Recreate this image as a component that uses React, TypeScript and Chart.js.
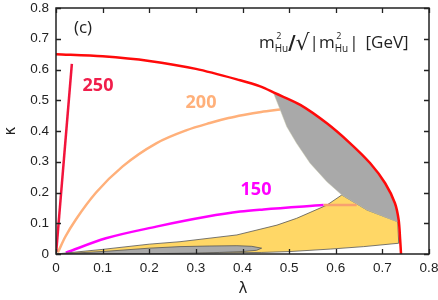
import React, { useEffect, useRef } from "react";
import { Chart, registerables } from "chart.js";
Chart.register(...registerables);

// ---- data ----
const X_TICKS = [0, 0.1, 0.2, 0.3, 0.4, 0.5, 0.6, 0.7, 0.8];
const Y_TICKS = [0, 0.1, 0.2, 0.3, 0.4, 0.5, 0.6, 0.7, 0.8];

const boundaryLam = [0, 0.1, 0.2, 0.3, 0.395, 0.438, 0.47, 0.524, 0.581, 0.631, 0.674, 0.706, 0.727, 0.735, 0.738, 0.74];
const boundaryKap = [0.65, 0.643, 0.628, 0.602, 0.565, 0.545, 0.523, 0.485, 0.425, 0.36, 0.295, 0.23, 0.165, 0.11, 0.05, 0];

const line250Lam = [0.0005, 0.034];
const line250Kap = [0.008, 0.618];

const line200Lam = [0.004, 0.02, 0.043, 0.086, 0.143, 0.215, 0.279, 0.33, 0.37, 0.402, 0.44, 0.481];
const line200Kap = [0.005, 0.056, 0.113, 0.2, 0.285, 0.36, 0.402, 0.426, 0.442, 0.452, 0.462, 0.47];

const line150Lam = [0.021, 0.107, 0.215, 0.322, 0.395, 0.445, 0.574];
const line150Kap = [0.004, 0.051, 0.089, 0.121, 0.138, 0.145, 0.159];
const line150HiddenLam = [0.574, 0.645];
const line150HiddenKap = [0.159, 0.159];

const grayUpperLam = [0.466, 0.474, 0.481, 0.495, 0.516, 0.545, 0.581, 0.613, 0.667, 0.731, 0.735, 0.727, 0.706, 0.674, 0.631, 0.581, 0.524, 0.466];
const grayUpperKap = [0.525, 0.495, 0.468, 0.414, 0.36, 0.295, 0.235, 0.192, 0.143, 0.105, 0.11, 0.165, 0.23, 0.295, 0.36, 0.425, 0.485, 0.525];

const yellowLam = [0, 0.1, 0.2, 0.266, 0.388, 0.474, 0.516, 0.581, 0.613, 0.667, 0.733, 0.735, 0.66, 0.588, 0.502, 0.44, 0.3, 0.15, 0];
const yellowKap = [0, 0.015, 0.032, 0.04, 0.062, 0.094, 0.116, 0.159, 0.192, 0.143, 0.105, 0.035, 0.024, 0.016, 0.008, 0.005, 0.003, 0.001, 0];

const grayBlobLam = [0, 0.1, 0.2, 0.266, 0.33, 0.388, 0.42, 0.441, 0.43, 0.4, 0.35, 0.3, 0.2, 0];
const grayBlobKap = [0, 0.008, 0.019, 0.024, 0.026, 0.027, 0.025, 0.019, 0.012, 0.008, 0.005, 0.003, 0.001, 0];

const pts = (xs: number[], ys: number[]) => xs.map((x, i) => ({ x, y: ys[i] }));

const fmt = (v: number) => (v === 0 ? "0" : v.toFixed(1));

const overlay = {
  id: "overlay",
  afterDraw(chart: any) {
    const { ctx, chartArea, scales } = chart;
    const { left, right, top, bottom } = chartArea;
    const x = scales.x;
    const y = scales.y;
    ctx.save();
    ctx.strokeStyle = "#222";
    ctx.lineWidth = 1.3;
    ctx.beginPath();
    for (const v of X_TICKS) {
      const px = Math.round(x.getPixelForValue(v)) + 0.5;
      ctx.moveTo(px, bottom);
      ctx.lineTo(px, bottom - 5);
      ctx.moveTo(px, top);
      ctx.lineTo(px, top + 5);
    }
    for (const v of Y_TICKS) {
      const py = Math.round(y.getPixelForValue(v)) + 0.5;
      ctx.moveTo(left, py);
      ctx.lineTo(left + 5, py);
      ctx.moveTo(right, py);
      ctx.lineTo(right - 5, py);
    }
    ctx.stroke();
    ctx.lineWidth = 1.5;
    ctx.strokeRect(left, top, right - left, bottom - top);

    // axis titles
    ctx.fillStyle = "#222";
    ctx.textAlign = "center";
    ctx.textBaseline = "middle";
    ctx.font = '15px "DejaVu Sans"';
    ctx.fillText("λ", 243, 289);
    ctx.save();
    ctx.translate(11, 131);
    ctx.rotate(-Math.PI / 2);
    ctx.fillText("κ", 0, 0);
    ctx.restore();

    // panel label
    ctx.font = '17px "Open Sans"';
    ctx.fillText("(c)", 83, 28);

    // contour labels
    ctx.font = 'bold 18px "Open Sans"';
    ctx.fillStyle = "#F01E4B";
    ctx.fillText("250", 98, 86);
    ctx.fillStyle = "#FFB07A";
    ctx.fillText("200", 201, 103);
    ctx.fillStyle = "#FF00FF";
    ctx.fillText("150", 256, 190);

    // formula
    ctx.fillStyle = "#222";
    ctx.textAlign = "left";
    ctx.textBaseline = "alphabetic";
    let fx = 259;
    const by = 48;
    const mPart = () => {
      ctx.font = '17px "Open Sans"';
      ctx.fillText("m", fx, by);
      fx += ctx.measureText("m").width;
      ctx.font = '9px "Open Sans"';
      ctx.fillText("2", fx + 1.5, by - 9);
      ctx.font = '10px "Open Sans"';
      ctx.fillText("Hu", fx, by + 4);
      fx += ctx.measureText("Hu").width + 1;
    };
    mPart();
    ctx.font = 'bold 20px "DejaVu Sans"';
    ctx.fillText("/", fx - 1, by + 1);
    fx += ctx.measureText("/").width - 1;
    ctx.font = '22px "DejaVu Sans"';
    ctx.fillText("√", fx, by + 2);
    fx += ctx.measureText("√").width;
    ctx.font = '17px "Open Sans"';
    ctx.fillText("|", fx, by);
    fx += ctx.measureText("|").width;
    mPart();
    ctx.font = '17px "Open Sans"';
    ctx.fillText("|", fx, by);
    fx += ctx.measureText("|").width + 7;
    ctx.fillText("[GeV]", fx, by);
    ctx.restore();
  },
};

export default function App() {
  const ref = useRef<HTMLCanvasElement | null>(null);
  useEffect(() => {
    if (!ref.current) return;
    const lineDs = (label: string, xs: number[], ys: number[], color: string, order: number, width = 2.5, smooth = true) => ({
      label,
      data: pts(xs, ys),
      borderColor: color,
      backgroundColor: color,
      borderWidth: width,
      pointRadius: 0,
      fill: false,
      tension: smooth ? 0.4 : 0,
      cubicInterpolationMode: smooth ? "monotone" : "default",
      order,
    });
    const polyDs = (label: string, xs: number[], ys: number[], fillColor: string, edge: string, edgeW: number, order: number) => ({
      label,
      data: pts(xs, ys),
      borderColor: edge,
      backgroundColor: fillColor,
      borderWidth: edgeW,
      pointRadius: 0,
      fill: "shape",
      tension: 0,
      order,
    });
    const tickFont = { family: '"Liberation Sans"', size: 13.5 };
    const chart = new Chart(ref.current, {
      type: "line",
      data: {
        datasets: [
          { ...lineDs("boundary", boundaryLam, boundaryKap, "#FF0A0A", 0, 2.5, false), tension: 0.3 },
          lineDs("250", line250Lam, line250Kap, "#F2143C", 1, 2.5, false),
          polyDs("grayUpper", grayUpperLam, grayUpperKap, "#A9A9A9", "rgba(200,200,170,0.8)", 0.6, 2),
          polyDs("grayBlob", grayBlobLam, grayBlobKap, "#A9A9A9", "#555", 0.8, 3),
          lineDs("150hidden", line150HiddenLam, line150HiddenKap, "#F8A070", 4, 2.5, false),
          polyDs("yellow", yellowLam, yellowKap, "#FFD766", "#555", 0.8, 5),
          lineDs("150", line150Lam, line150Kap, "#FF00FF", 6, 2.5, true),
          lineDs("200", line200Lam, line200Kap, "#FFB07A", 7, 2.5, true),
        ] as any,
      },
      options: {
        responsive: false,
        animation: false,
        layout: { padding: { left: 0, top: 8, right: 9, bottom: 0 } },
        plugins: { legend: { display: false }, tooltip: { enabled: false } },
        scales: {
          x: {
            type: "linear",
            min: 0,
            max: 0.8,
            grid: { display: false, drawTicks: false },
            border: { display: false },
            ticks: {
              stepSize: 0.1,
              padding: 6,
              color: "#222",
              font: tickFont,
              maxRotation: 0,
              callback: (v: any) => fmt(Number(v)),
            },
            afterFit: (s: any) => {
              s.height = 46;
              s.paddingLeft = 0;
              s.paddingRight = 0;
            },
          },
          y: {
            type: "linear",
            min: 0,
            max: 0.8,
            grid: { display: false, drawTicks: false },
            border: { display: false },
            ticks: {
              stepSize: 0.1,
              padding: 7,
              color: "#222",
              font: tickFont,
              callback: (v: any) => fmt(Number(v)),
            },
            afterFit: (s: any) => {
              s.width = 56;
              s.paddingTop = 0;
              s.paddingBottom = 0;
            },
          },
        },
      } as any,
      plugins: [overlay],
    });
    return () => chart.destroy();
  }, []);
  return (
    <div style={{ position: "fixed", left: 0, top: 0, width: 438, height: 300, background: "#fff" }}>
      <canvas ref={ref} width={438} height={300} style={{ width: 438, height: 300 }} />
    </div>
  );
}
